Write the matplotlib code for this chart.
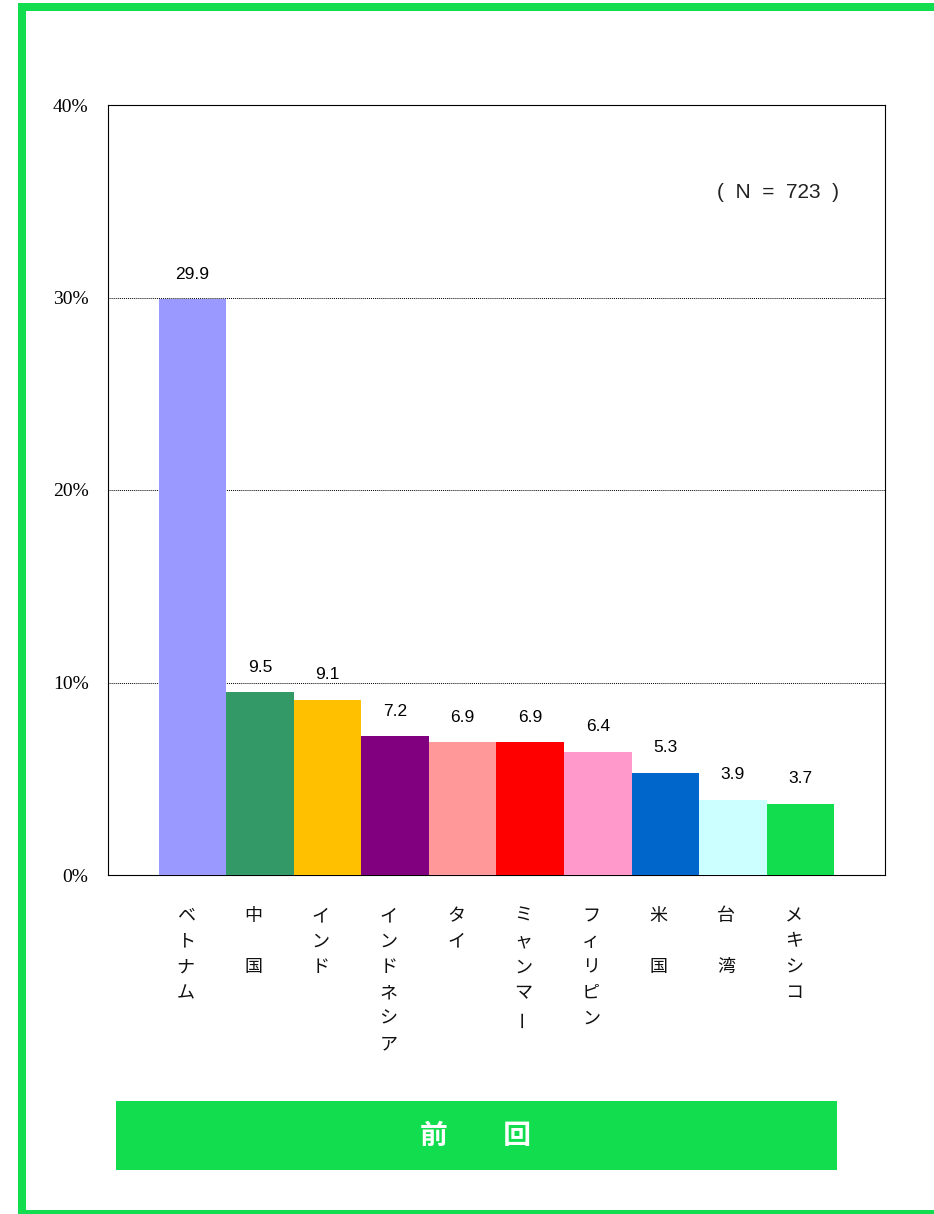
import matplotlib
matplotlib.use("Agg")
import matplotlib.pyplot as plt
from matplotlib.patches import Rectangle

plt.rcParams['font.family'] = ['Noto Sans CJK JP', 'DejaVu Sans']

# data
countries = ["ベトナム", "中　国", "インド", "インドネシア", "タイ",
             "ミャンマー", "フィリピン", "米　国", "台　湾", "メキシコ"]
values = [29.9, 9.5, 9.1, 7.2, 6.9, 6.9, 6.4, 5.3, 3.9, 3.7]
colors = ["#9999FF", "#339966", "#FFC000", "#800080", "#FF9999",
          "#FF0000", "#FF99CC", "#0066CC", "#CCFFFF", "#11DD4F"]
yticks = [0, 10, 20, 30, 40]
ytick_labels = ["0%", "10%", "20%", "30%", "40%"]
note = "(  N  =  723  )"
panel_title = "前　　回"

W, H = 934, 1214
green = "#11DD4F"

fig = plt.figure(figsize=(W / 100, H / 100), dpi=100)

def px_rect(x0, y0, x1, y1, color):
    # rectangle given in pixel coords (origin top-left)
    r = Rectangle((x0 / W, 1 - y1 / H), (x1 - x0) / W, (y1 - y0) / H,
                  transform=fig.transFigure, facecolor=color, edgecolor="none")
    fig.add_artist(r)

# green frame
px_rect(18, 3, 26, H, green)
px_rect(18, 3, W, 11, green)
px_rect(18, 1210, W, H, green)

ax = fig.add_axes([108 / W, 1 - 875 / H, (885 - 108) / W, (875 - 105) / H])

x = list(range(len(values)))
ax.bar(x, values, width=1.0, color=colors, zorder=3)

ax.set_xlim(-1.25, len(values) - 1 + 1.25)
ax.set_ylim(0, 40)
ax.set_yticks(yticks)
ax.set_yticklabels(ytick_labels, family=["Liberation Serif", "DejaVu Serif"], fontsize=14)
ax.tick_params(axis="y", length=0, pad=14)
ax.set_xticks([])
ax.yaxis.grid(True, linestyle=(0, (1, 1)), color="black", linewidth=0.7, zorder=1)
for s in ax.spines.values():
    s.set_color("black")
    s.set_linewidth(0.8)

# value labels
for xi, v in zip(x, values):
    ax.annotate(f"{v:.1f}", (xi, v), xytext=(0, 18), textcoords="offset points",
                ha="center", va="center", fontsize=12.5, color="black",
                family=["Liberation Sans", "DejaVu Sans"])

# N note
ax.text(0.862, 0.886, note, transform=ax.transAxes, ha="center", va="center",
        fontsize=15, color="#222222", family=["Liberation Sans", "DejaVu Sans"])

# vertical category labels, one character per line
for xi, name in zip(x, countries):
    for k, ch in enumerate(name):
        rot = 90 if ch == "ー" else 0
        ax.annotate(ch, (xi - 0.1, 0), xycoords=("data", "axes fraction"),
                    xytext=(0, -29.5 - k * 18.5), textcoords="offset points",
                    ha="center", va="center", fontsize=13, rotation=rot,
                    color="#111111")

# bottom title box
px_rect(116, 1101, 837, 1170, green)
fig.text(476 / W, 1 - 1136 / H, panel_title, ha="center", va="center",
         color="white", fontsize=20, fontweight="bold")

fig.savefig("out.png", dpi=100)
